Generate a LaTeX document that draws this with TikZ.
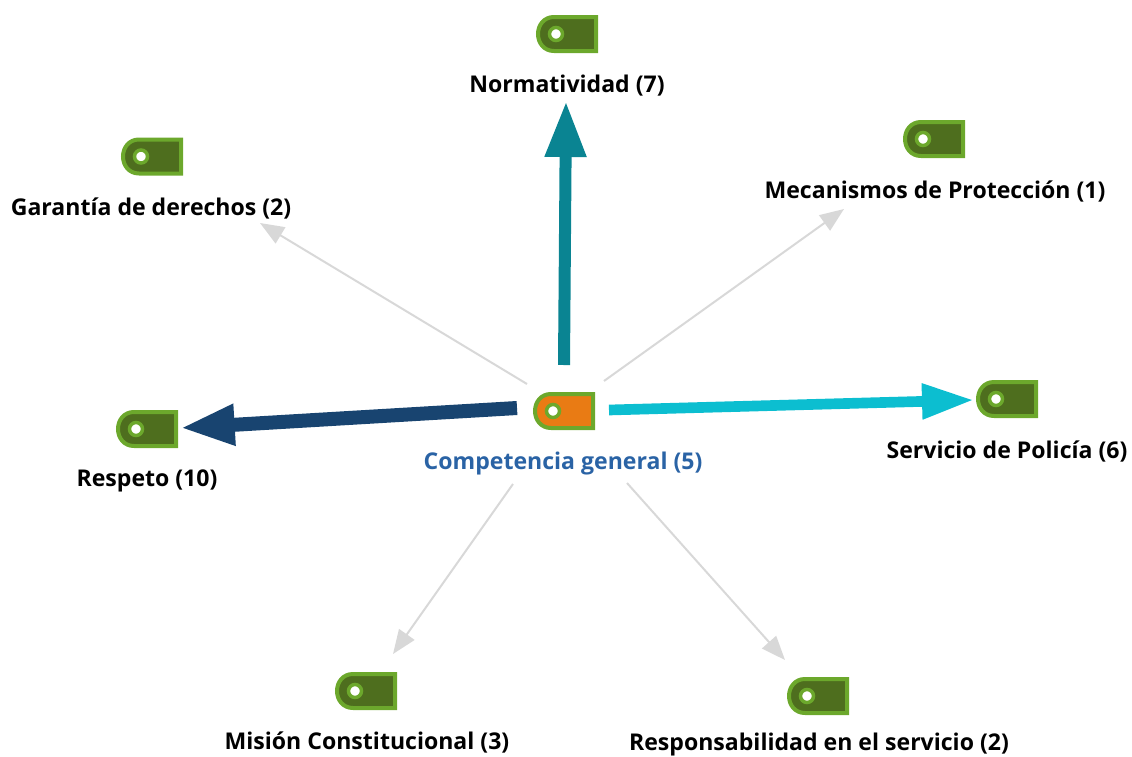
\documentclass[tikz,border=0pt]{standalone}
\usepackage{fontspec}
\setmainfont{Open Sans}
\usetikzlibrary{arrows.meta}
\definecolor{tagdark}{RGB}{78,110,30}
\definecolor{tagrim}{RGB}{108,168,44}
\definecolor{tagorange}{RGB}{233,123,20}
\definecolor{thingray}{RGB}{216,216,216}
\definecolor{normteal}{RGB}{10,132,146}
\definecolor{respblue}{RGB}{24,68,112}
\definecolor{servcyan}{RGB}{12,190,208}
\definecolor{compblue}{RGB}{42,99,165}
\tikzset{
  pics/tagbox/.style={code={
    \draw [draw=tagrim,line width=3pt,fill=#1] (29,-17) -- (-13,-17) .. controls (-23,-17) and (-29,-9) .. (-29,0) .. controls (-29,9) and (-23,17) .. (-13,17) -- (29,17) -- cycle ;
    \draw [draw=tagrim,line width=2.6pt,fill=white] (-11,0) circle (6.5) ;
  }},
  pics/tagbox/.default=tagdark,
  tagname/.style={font=\fontsize{17.3}{20}\selectfont\bfseries,inner sep=0.75pt,text=black},
  weaklink/.style={draw=thingray,line width=1.5pt,-{Triangle[length=18pt,width=14pt]}},
}
\begin{document}
\begin{tikzpicture}[x=0.75pt,y=0.75pt,yscale=-1,xscale=1]
\useasboundingbox (0,0) rectangle (1132,757);

%Shape: Tags
\pic (tagNorm) at (567,34) {tagbox};
\pic (tagGar) at (152,156.5) {tagbox};
\pic (tagMec) at (934,139) {tagbox};
\pic (tagResp) at (147,429) {tagbox};
\pic (tagComp) at (564,411) {tagbox=tagorange};
\pic (tagServ) at (1007,399) {tagbox};
\pic (tagMis) at (366,691) {tagbox};
\pic (tagRes) at (818,696) {tagbox};

% Text Node
\node (lblNorm) [tagname] at (567,86) {Normatividad (7)};
\node (lblGar) [tagname] at (151,208) {Garantía de derechos (2)};
\node (lblMec) [tagname] at (935,191) {Mecanismos de Protección (1)};
\node (lblResp) [tagname] at (147,481) {Respeto (10)};
\node (lblComp) [tagname,text=compblue] at (563,464) {Competencia general (5)};
\node (lblServ) [tagname] at (1007,451) {Servicio de Policía (6)};
\node (lblMis) [tagname] at (367,742) {Misión Constitucional (3)};
\node (lblRes) [tagname] at (819,744.5) {Responsabilidad en el servicio (2)};

%Connector ends
\coordinate (startNorm) at (564,365);
\coordinate (endNorm) at (566,101);
\coordinate (startResp) at (517,408);
\coordinate (endResp) at (180,428);
\coordinate (startServ) at (609,410);
\coordinate (endServ) at (974,400);
\coordinate (startGar) at (527,384);
\coordinate (endGar) at (260,223);
\coordinate (startMec) at (604,381);
\coordinate (endMec) at (844,209);
\coordinate (startMis) at (513,484);
\coordinate (endMis) at (393,654);
\coordinate (startRes) at (627,483);
\coordinate (endRes) at (785,660);

%Connectors
\draw [weaklink] (startGar) -- (endGar);
\draw [weaklink] (startMec) -- (endMec);
\draw [weaklink] (startMis) -- (endMis);
\draw [weaklink] (startRes) -- (endRes);
\draw [draw=normteal,line width=9pt,-{Triangle[length=42pt,width=29pt]}] (startNorm) -- (endNorm);
\draw [draw=respblue,line width=10.5pt,-{Triangle[length=41pt,width=28.5pt]}] (startResp) -- (endResp);
\draw [draw=servcyan,line width=8pt,-{Triangle[length=39pt,width=25pt]}] (startServ) -- (endServ);

\end{tikzpicture}
\end{document}
